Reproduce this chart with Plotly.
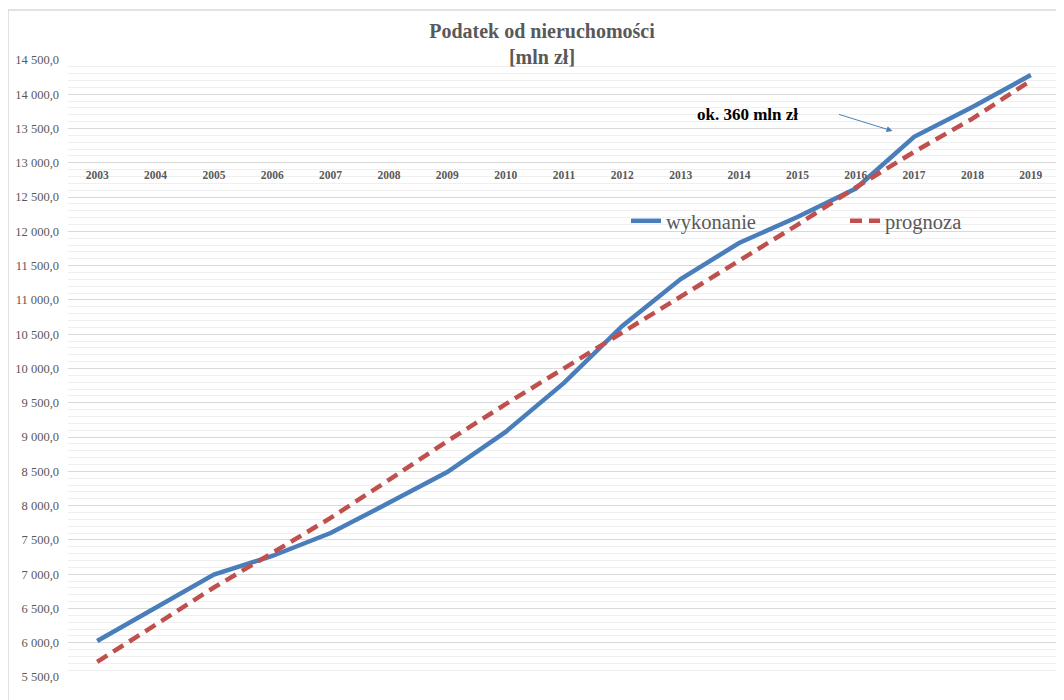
import plotly.graph_objects as go

years = [str(y) for y in range(2003, 2020)]
wykonanie = [6025, 6505, 6995, 7265, 7600, 8040, 8490, 9075, 9790, 10620, 11305,
             11830, 12210, 12625, 13380, 13815, 14280]
prognoza = [5720, 6258, 6805, 7310, 7820, 8375, 8940, 9480, 10005, 10515, 11045,
            11570, 12095, 12640, 13160, 13645, 14200]
y_ticks = list(range(5500, 14501, 500))
y_ticktext = [f"{v:,.1f}".replace(",", " ").replace(".", ",") for v in y_ticks]

SERIF = "Liberation Serif, Times New Roman, serif"
GREY = "#595959"

# page has an 8px body offset; figure coordinates below compensate for it
fig = go.Figure()
fig.add_trace(go.Scatter(x=years, y=wykonanie, name="wykonanie", mode="lines",
                         line=dict(color="#4a7ebb", width=4.5), legend="legend"))
fig.add_trace(go.Scatter(x=years, y=prognoza, name="prognoza", mode="lines",
                         line=dict(color="#c0504d", width=4.5, dash="12px,7px"),
                         legend="legend2"))

legend_common = dict(orientation="h", xanchor="left", yanchor="middle",
                     y=(677 - 221) / 617, bgcolor="rgba(0,0,0,0)",
                     font=dict(family=SERIF, size=20.5, color=GREY))

fig.update_layout(
    width=1056, height=692,
    margin=dict(l=60, r=4, t=52, b=23, autoexpand=False),
    paper_bgcolor="white", plot_bgcolor="white",
    title=dict(text="<b>Podatek od nieruchomości<br>[mln zł]</b>",
               x=534 / 1056, xref="container", xanchor="center",
               y=1 - 30 / 692, yref="container", yanchor="top",
               font=dict(family=SERIF, size=20, color=GREY)),
    xaxis=dict(type="category", range=[-0.5, 16.5], anchor="free",
               position=(13000 - 5500) / 9000, showline=False, ticks="",
               showgrid=False, zeroline=False, ticklabelstandoff=4,
               tickfont=dict(family=SERIF, size=11.5, color=GREY, weight="bold")),
    yaxis=dict(range=[5500, 14500], tickvals=y_ticks, ticktext=y_ticktext,
               showgrid=True, gridcolor="#d9d9d9", gridwidth=1, zeroline=False,
               showline=False, ticks="", ticklabelstandoff=8,
               tickfont=dict(family=SERIF, size=12.5, color=GREY),
               minor=dict(dtick=100, showgrid=True, gridcolor="#efefef", gridwidth=1)),
    legend=dict(x=(626 - 68) / 992, **legend_common),
    legend2=dict(x=(845 - 68) / 992, **legend_common),
    showlegend=True,
)

fig.add_annotation(text="<b>ok. 360 mln zł</b>", x=11.15, y=13700, xref="x", yref="y",
                   showarrow=False, font=dict(family=SERIF, size=17, color="black"))
fig.add_annotation(text="", x=13.63, y=13465, xref="x", yref="y",
                   ax=-55, ay=-17, showarrow=True, arrowhead=2, arrowsize=1.2,
                   arrowwidth=1, arrowcolor="#4a7ebb")

fig.add_shape(type="rect", xref="paper", yref="paper",
              x0=(0 - 60) / 992, x1=1.03, y0=-0.1, y1=(669 - 2) / 617,
              line=dict(color="#d9d9d9", width=1.5), fillcolor="rgba(0,0,0,0)", layer="below")

fig.write_html("out.html")
